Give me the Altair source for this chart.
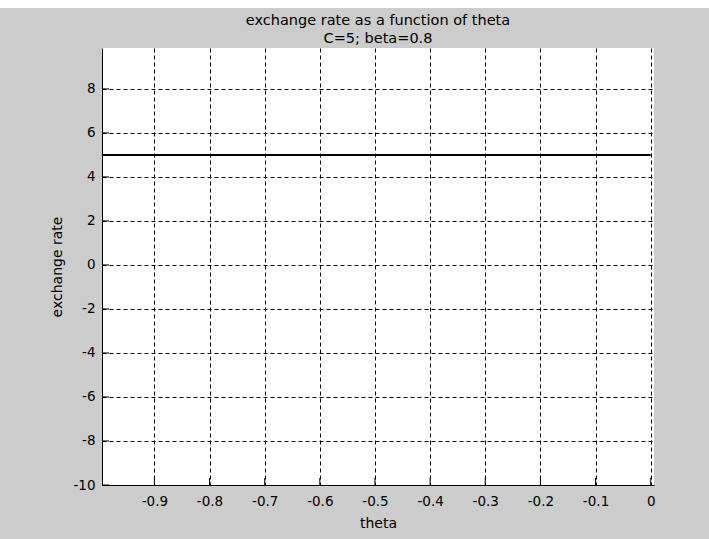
import altair as alt
import pandas as pd

# Exchange rate as a function of theta (C=5, beta=0.8): constant at 5
theta = [-0.995, 0.0]
rate = [5.0, 5.0]

x_ticks = [-0.9, -0.8, -0.7, -0.6, -0.5, -0.4, -0.3, -0.2, -0.1, 0]
y_ticks = [-10, -8, -6, -4, -2, 0, 2, 4, 6, 8]

x_domain = [-0.995, 0.006]
y_domain = [-10, 9.86]

title_lines = ["exchange rate as a function of theta", "C=5; beta=0.8"]

FONT = "DejaVu Sans"
W, H = 552, 437

line_df = pd.DataFrame({"theta": theta, "rate": rate})
xt_df = pd.DataFrame({"t": x_ticks})
yt_df = pd.DataFrame({"t": y_ticks})
title_df = pd.DataFrame({"line1": [title_lines[0]], "line2": [title_lines[1]]})

x_scale = alt.Scale(domain=x_domain, nice=False, zero=False)
y_scale = alt.Scale(domain=y_domain, nice=False, zero=False)

x_axis = alt.Axis(
    values=x_ticks, labelExpr="datum.value + ''", grid=True,
    gridDash=[4, 3], gridColor="black", gridWidth=1, ticks=False,
    labelPadding=9, labelFontSize=13.5, labelFont=FONT, labelColor="black",
    labelFlush=False, domainColor="black", domainWidth=1,
    title="theta", titleFont=FONT, titleFontSize=14, titleFontWeight="normal",
    titleColor="black", titleY=42, titleBaseline="alphabetic",
)
y_axis = alt.Axis(
    values=y_ticks, labelExpr="datum.value + ''", grid=True,
    gridDash=[4, 3], gridColor="black", gridWidth=1, ticks=False,
    labelPadding=7, labelFontSize=13.5, labelFont=FONT, labelColor="black",
    labelFlush=False, domainColor="black", domainWidth=1,
    title="exchange rate", titleFont=FONT, titleFontSize=14,
    titleFontWeight="normal", titleColor="black", titleX=-45, titleY=H / 2,
    titleAngle=270, titleAlign="center", titleBaseline="middle",
)

line = alt.Chart(line_df).mark_line(color="black", strokeWidth=2).encode(
    x=alt.X("theta:Q", scale=x_scale, axis=x_axis),
    y=alt.Y("rate:Q", scale=y_scale, axis=y_axis),
)

# inward tick marks along the bottom and left axes
x_tick_marks = alt.Chart(xt_df).mark_rule(color="black", strokeWidth=1).encode(
    x=alt.X("t:Q", scale=x_scale),
    y=alt.value(H),
    y2=alt.value(H - 7),
)
y_tick_marks = alt.Chart(yt_df).mark_rule(color="black", strokeWidth=1).encode(
    y=alt.Y("t:Q", scale=y_scale),
    x=alt.value(0),
    x2=alt.value(7),
)

# white strip along the top edge of the figure
top_band = alt.Chart(title_df).mark_rect(color="white").encode(
    x=alt.value(-102), x2=alt.value(607),
    y=alt.value(-48), y2=alt.value(-40),
)

# two-line title centred over the axes
title_base = alt.Chart(title_df).mark_text(
    font=FONT, fontSize=14.5, color="black", align="center",
    baseline="alphabetic",
)
title1 = title_base.encode(text="line1:N", x=alt.value(W / 2), y=alt.value(-23))
title2 = title_base.encode(text="line2:N", x=alt.value(W / 2), y=alt.value(-5))

chart = alt.layer(
    line, x_tick_marks, y_tick_marks, top_band, title1, title2
).properties(
    width=W,
    height=H,
    autosize=alt.AutoSizeParams(type="none"),
    padding={"left": 102, "top": 48, "right": 55, "bottom": 54},
    background="#cccccc",
).configure_view(fill="white", strokeWidth=0)

chart.save("out.html", embed_options={"renderer": "svg", "actions": False})
